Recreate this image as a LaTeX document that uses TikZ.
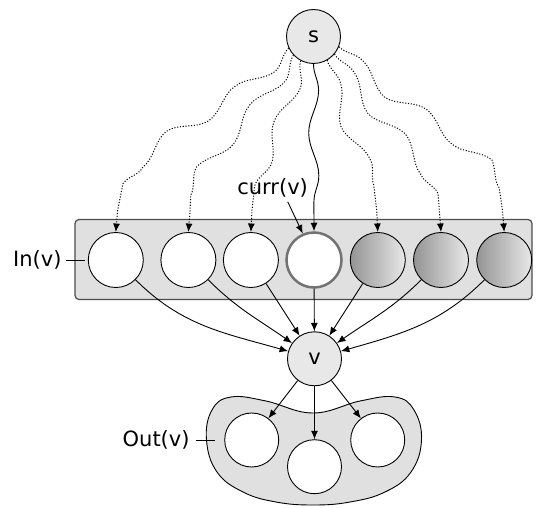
\documentclass[tikz,border=0pt]{standalone}
\usepackage{fontspec}
\setmainfont{DejaVu Sans}
\usetikzlibrary{decorations.pathmorphing, arrows.meta}
\begin{document}
\begin{tikzpicture}[x=1pt,y=1pt, line width=0.9pt,
  lbl/.style={font=\fontsize{21}{25}\selectfont, inner sep=0pt},
  nd/.style={circle, draw, minimum size=55pt, inner sep=0pt, fill=white},
  grad/.style={circle, draw, minimum size=55pt, inner sep=0pt, left color=black!42, right color=black!9},
  hub/.style={circle, draw, minimum size=54pt, inner sep=0pt, fill=black!9, font=\fontsize{21}{25}\selectfont},
  arr/.style={-{Latex[length=8.5pt,width=7pt]}},
  wavy/.style={arr, decorate, decoration={snake, amplitude=5pt, segment length=85pt, post length=22pt}},
  dotline/.style={arr, decorate, decoration={snake, amplitude=7pt, segment length=82pt, post length=22pt}, dash pattern=on 1.1pt off 1.7pt, line width=1pt}]
\useasboundingbox (0,0) rectangle (536,507);
% group boxes
\draw[draw=black!70, line width=1.2pt, fill=black!12, rounded corners=4pt] (75,207.5) rectangle (532,287.5);
\draw[fill=black!12] plot[smooth cycle, tension=0.7] coordinates {
  (313,94) (360,106) (395,110) (414,97) (421.5,67) (411,35) (385,15) (350,5)
  (313,2) (276,5) (243,15) (217,35) (206.5,67) (212,97) (231,110) (266,106)};
% nodes
\node[hub] (s) at (313.5,470.5) {s};
\node[hub] (v) at (314.5,148.2) {v};
\node[nd] (i1) at (115.8,247) {};
\node[nd] (i2) at (188.4,247) {};
\node[nd] (i3) at (250.9,247) {};
\node[nd, draw=black!55, line width=2.5pt] (i4) at (314,247) {};
\node[grad] (i5) at (377.8,247) {};
\node[grad] (i6) at (441,247) {};
\node[grad] (i7) at (504.2,247) {};
\node[nd, minimum size=54pt] (o1) at (251.7,67) {};
\node[nd, minimum size=54pt] (o2) at (314.5,40.3) {};
\node[nd, minimum size=54pt] (o3) at (377.7,67) {};
% labels
\node[lbl, anchor=east] (inl) at (62,247) {In(v)};
\coordinate (inend) at (85,247);
\draw (66,247) -- (inend);
\node[lbl, anchor=east] (outl) at (190,67) {Out(v)};
\coordinate (outend) at (215,67);
\draw (196,67) -- (outend);
\node[lbl, anchor=base] (currl) at (272.6,312) {curr(v)};
\coordinate (cstart) at (287.7,305.3);
\draw[arr] (cstart) -- (i4.113);
% paths from s
\draw[dotline] (s.-155) to[out=-135,in=90] (i1.north);
\draw[dotline] (s.-137) to[out=-122,in=90] (i2.north);
\draw[dotline] (s.-118) to[out=-105,in=90] (i3.north);
\draw[wavy] (s.south) -- (i4.north);
\draw[dotline] (s.-60) to[out=-75,in=90] (i5.north);
\draw[dotline] (s.-40) to[out=-58,in=90] (i6.north);
\draw[dotline] (s.-22) to[out=-45,in=90] (i7.north);
% In -> v
\draw[arr] (i1.-45) to[out=-45,in=164] (v.164);
\draw[arr] (i2.-45) to[out=-45,in=145] (v.145);
\draw[arr] (i3) -- (v);
\draw[arr] (i4) -- (v);
\draw[arr] (i5) -- (v);
\draw[arr] (i6.-135) to[out=-135,in=35] (v.35);
\draw[arr] (i7.-135) to[out=-135,in=16] (v.16);
% v -> Out
\draw[arr] (v) -- (o1);
\draw[arr] (v) -- (o2);
\draw[arr] (v) -- (o3);
\end{tikzpicture}
\end{document}
